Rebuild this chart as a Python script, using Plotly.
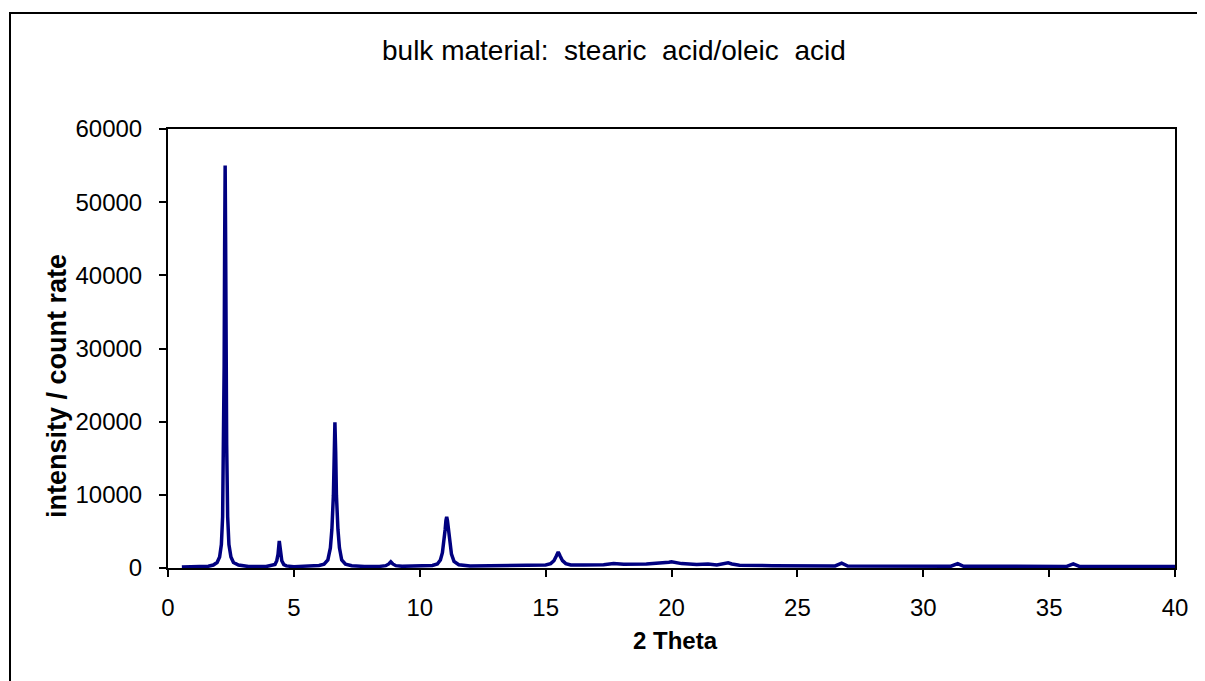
import plotly.graph_objects as go

# 2-Theta positions and intensities
two_theta = [0.55, 1.2, 1.6, 1.8, 1.95, 2.05, 2.12, 2.17, 2.21, 2.23, 2.25, 2.27, 2.29, 2.31, 2.33,
             2.37, 2.42, 2.5, 2.6, 2.8, 3.2,
             3.9, 4.15, 4.25, 4.32, 4.37, 4.42, 4.47, 4.52, 4.6, 4.7, 5.0,
             5.6, 6.0, 6.2, 6.35, 6.45, 6.51, 6.57, 6.6, 6.63, 6.66, 6.69, 6.75, 6.81, 6.9,
             7.05, 7.3, 7.8,
             8.4, 8.65, 8.77, 8.85, 8.93, 9.05, 9.3,
             10.0, 10.5, 10.7, 10.82, 10.9, 10.96, 11.01, 11.04, 11.07, 11.1, 11.14, 11.19,
             11.26, 11.36, 11.55, 12.0, 13.0, 14.5,
             15.0, 15.2, 15.33, 15.42, 15.5, 15.58, 15.67, 15.8, 16.0, 16.5,
             17.3, 17.7, 18.1, 19.0, 19.7, 19.9, 20.0, 20.1, 20.4,
             21.0, 21.45, 21.8, 22.1, 22.25, 22.4, 22.7, 24.0,
             26.5, 26.76, 27.0, 31.1, 31.37, 31.6, 35.7, 35.96, 36.2, 40.0]
intensity = [150, 160, 240, 400, 750, 1500, 3200, 7000, 16900, 27500, 44000, 55000, 44000, 27500,
             16900, 7000, 3200, 1500, 750, 400, 200,
             200, 320, 480, 1000, 1850, 3700, 1850, 1000, 460, 290, 180,
             230, 350, 520, 1100, 2750, 5300, 9950, 15900, 19900, 15900, 9950, 5300, 2750, 1100,
             520, 320, 210,
             220, 320, 550, 850, 550, 320, 230,
             250, 350, 550, 1100, 2100, 3600, 5300, 6500, 7000, 6500, 5200, 3400,
             1900, 900, 450, 280, 300, 340,
             420, 600, 1000, 1600, 2200, 1600, 1000, 600, 420, 400,
             450, 600, 500, 550, 650, 780, 850, 780, 600,
             480, 550, 400, 550, 700, 550, 380, 320,
             280, 650, 270, 250, 600, 240, 220, 550, 220, 200]

x_ticks = [0, 5, 10, 15, 20, 25, 30, 35, 40]
y_ticks = [0, 10000, 20000, 30000, 40000, 50000, 60000]

title_text = "bulk material:  stearic  acid/oleic  acid"
x_title = "2 Theta"
y_title = "intensity / count rate"

FONT = "Arial, Liberation Sans, sans-serif"

# page offset (default body margin of the html page)
OFF = 8
W, H = 1205 - OFF, 681 - OFF
# plot area in window pixels
PX0, PX1, PY0, PY1 = 168, 1175, 129, 568
L, R, T, B = PX0 - OFF, 1205 - PX1, PY0 - OFF, 681 - PY1
pw, ph = PX1 - PX0, PY1 - PY0

def px(xp):
    return (xp - PX0) / pw

def py(yp):
    return (PY1 - yp) / ph

fig = go.Figure()
fig.add_trace(go.Scatter(x=two_theta, y=intensity, mode="lines",
                         line=dict(color="#000080", width=3.5), showlegend=False,
                         cliponaxis=False))

fig.update_layout(
    width=W, height=H,
    margin=dict(l=L, r=R, t=T, b=B),
    paper_bgcolor="white", plot_bgcolor="white",
    font=dict(family=FONT, size=24, color="black"),
    xaxis=dict(range=[0, 40], tickvals=x_ticks, ticks="outside", ticklen=7, tickwidth=2,
               tickcolor="black", showline=True, linecolor="black", linewidth=2, mirror=True,
               showgrid=False, zeroline=False, tickfont=dict(size=24),
               ticklabelstandoff=10),
    yaxis=dict(range=[0, 60000], tickvals=y_ticks, tickformat="d", ticks="outside",
               ticklen=7, tickwidth=2,
               tickcolor="black", showline=True, linecolor="black", linewidth=2, mirror=True,
               showgrid=False, zeroline=False, tickfont=dict(size=24),
               ticklabelstandoff=12),
    shapes=[dict(type="rect", xref="paper", yref="paper",
                 x0=px(10), x1=px(1260), y0=py(740), y1=py(13),
                 line=dict(color="black", width=2), fillcolor="rgba(0,0,0,0)", layer="below")],
    annotations=[
        dict(text=title_text, x=px(614), y=py(51), xref="paper", yref="paper",
             showarrow=False, font=dict(size=28), xanchor="center", yanchor="middle"),
        dict(text="<b>" + x_title + "</b>", x=px(675), y=py(640), xref="paper", yref="paper",
             showarrow=False, font=dict(size=24), xanchor="center", yanchor="middle"),
        dict(text="<b>" + y_title + "</b>", x=px(57), y=py(386), xref="paper", yref="paper",
             showarrow=False, font=dict(size=27), textangle=-90,
             xanchor="center", yanchor="middle"),
    ],
)

fig.write_html("out.html")
